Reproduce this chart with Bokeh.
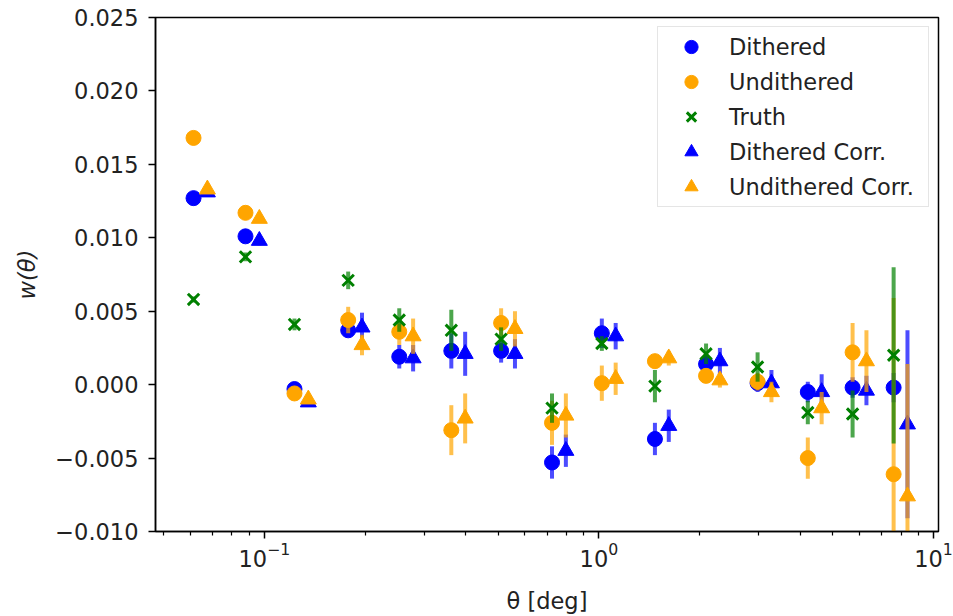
import numpy as np
from bokeh.plotting import figure
from bokeh.models import (ColumnDataSource, FixedTicker, CustomJSTickFormatter,
                          LogTickFormatter, Range1d)
from bokeh.embed import file_html
from bokeh.resources import INLINE

# ---------------- data ----------------
theta = [0.0614, 0.0878, 0.123, 0.178, 0.253, 0.362, 0.510, 0.724,
         1.02, 1.47, 2.09, 2.98, 4.21, 5.73, 7.60]

dithered = [0.0127, 0.0101, -0.0003, 0.0037, 0.0019, 0.0023, 0.0023, -0.0053,
            0.0035, -0.0037, 0.0014, 0.0001, -0.0005, -0.0002, -0.0002]
dithered_err = [0.0002, 0.0003, 0.0003, 0.0004, 0.0008, 0.0012, 0.0008, 0.0011,
                0.0010, 0.0011, 0.0006, 0.0006, 0.0007, 0.0007, 0.0010]

undithered = [0.0168, 0.0117, -0.0006, 0.0044, 0.0036, -0.0031, 0.0042, -0.0026,
              0.0001, 0.0016, 0.0006, 0.0002, -0.0050, 0.0022, -0.0061]
undithered_err = [0.0002, 0.0003, 0.0003, 0.0009, 0.0009, 0.0017, 0.0010, 0.0015,
                  0.0012, 0.0004, 0.0005, 0.0006, 0.0014, 0.0020, 0.0120]

truth = [0.0058, 0.0087, 0.0041, 0.0071, 0.0044, 0.0037, 0.0031, -0.0016,
         0.0028, -0.0001, 0.0021, 0.0012, -0.0019, -0.0020, 0.0020]
truth_err = [0.0002, 0.0003, 0.0004, 0.0006, 0.0008, 0.0014, 0.0008, 0.0010,
             0.0005, 0.0011, 0.0007, 0.0010, 0.0008, 0.0016, 0.0060]

dithered_corr = [0.0131, 0.0098, -0.0012, 0.0039, 0.0018, 0.0021, 0.0021, -0.0045,
                 0.0033, -0.0028, 0.0016, 0.0001, -0.0005, -0.0004, -0.0027]
dithered_corr_err = [0.0002, 0.0003, 0.0003, 0.0010, 0.0009, 0.0015, 0.0010, 0.0011,
                     0.0009, 0.0011, 0.0009, 0.0009, 0.0012, 0.0010, 0.0064]

undithered_corr = [0.0133, 0.0113, -0.0010, 0.0027, 0.0033, -0.0023, 0.0038, -0.0021,
                   0.0004, 0.0018, 0.0003, -0.0005, -0.0016, 0.0016, -0.0076]
undithered_corr_err = [0.0002, 0.0003, 0.0003, 0.0007, 0.0012, 0.0017, 0.0012, 0.0015,
                       0.0011, 0.0005, 0.0005, 0.0007, 0.0011, 0.0021, 0.0090]

x_major_ticks = [0.1, 1.0, 10.0]
x_minor_ticks = [0.05, 0.06, 0.07, 0.08, 0.09,
                 0.2, 0.3, 0.4, 0.5, 0.6, 0.7, 0.8, 0.9,
                 2, 3, 4, 5, 6, 7, 8, 9]
y_ticks = [-0.010, -0.005, 0.000, 0.005, 0.010, 0.015, 0.020, 0.025]

CORR_SHIFT = 1.1  # horizontal offset factor for the corrected series

FONT = "DejaVu Sans"
FS = "22.5px"

p = figure(width=953, height=616, x_axis_type="log",
           x_range=Range1d(0.04726, 10.35), y_range=Range1d(-0.010, 0.025),
           output_backend="svg", toolbar_location=None,
           min_border_left=155, min_border_right=15,
           min_border_top=17, min_border_bottom=85)

p.background_fill_color = "white"
p.border_fill_color = "white"
p.outline_line_color = "black"
p.outline_line_width = 1.5
p.xgrid.visible = False
p.ygrid.visible = False


def series(xs, ys, errs, color, marker, label, size=15, line_width=1):
    xs = np.asarray(xs, dtype=float)
    ys = np.asarray(ys, dtype=float)
    errs = np.asarray(errs, dtype=float)
    src = ColumnDataSource(dict(x=xs, y=ys, lo=ys - errs, hi=ys + errs))
    p.segment(x0="x", y0="lo", x1="x", y1="hi", source=src,
              line_color=color, line_width=4, line_alpha=0.7)
    if marker == "x":
        p.scatter("x", "y", source=src, marker="x", size=size,
                  line_color=color, line_width=3, legend_label=label)
    else:
        p.scatter("x", "y", source=src, marker=marker, size=size,
                  fill_color=color, line_color=color, line_width=line_width,
                  legend_label=label)


th = np.asarray(theta, dtype=float)
series(th, dithered, dithered_err, "blue", "circle", "Dithered")
series(th, undithered, undithered_err, "orange", "circle", "Undithered")
series(th, truth, truth_err, "green", "x", "Truth", size=16)
series(th * CORR_SHIFT, dithered_corr, dithered_corr_err, "blue", "triangle",
       "Dithered Corr.", size=16)
series(th * CORR_SHIFT, undithered_corr, undithered_corr_err, "orange", "triangle",
       "Undithered Corr.", size=16)

# ---------------- axes ----------------
xa = p.xaxis[0]
xa.ticker = FixedTicker(ticks=x_major_ticks, minor_ticks=x_minor_ticks)
xa.formatter = LogTickFormatter()
ya = p.yaxis[0]
ya.ticker = FixedTicker(ticks=y_ticks)
ya.formatter = CustomJSTickFormatter(
    code="return tick.toFixed(3).replace('-', '\\u2212');")

for ax in (xa, ya):
    ax.axis_line_width = 1.5
    ax.axis_line_color = "black"
    ax.major_tick_in = 0
    ax.major_tick_out = 7
    ax.minor_tick_in = 0
    ax.minor_tick_out = 4
    ax.major_tick_line_width = 1.5
    ax.minor_tick_line_width = 1.2
    ax.major_label_text_font = FONT
    ax.major_label_text_font_size = FS
    ax.major_label_text_color = "#222222"
    ax.axis_label_text_font = FONT
    ax.axis_label_text_font_size = FS
    ax.axis_label_text_color = "#222222"

ya.minor_tick_out = 0
ya.major_label_standoff = 10
ya.axis_label = "w(θ)"
ya.axis_label_text_font_style = "italic"
ya.axis_label_standoff = 12

xa.major_label_standoff = 3
xa.axis_label = "θ [deg]"
xa.axis_label_text_font_style = "normal"
xa.axis_label_standoff = 18

# ---------------- legend ----------------
lg = p.legend[0]
lg.location = "top_right"
lg.margin = 9
lg.padding = 3
lg.spacing = 2
lg.glyph_height = 33
lg.glyph_width = 60
lg.label_standoff = 8
lg.label_width = 196
lg.label_text_font = FONT
lg.label_text_font_size = FS
lg.label_text_color = "#222222"
lg.border_line_color = "#cccccc"
lg.border_line_width = 1.5
lg.background_fill_alpha = 0.8

open("out.html", "w").write(file_html(p, INLINE))
